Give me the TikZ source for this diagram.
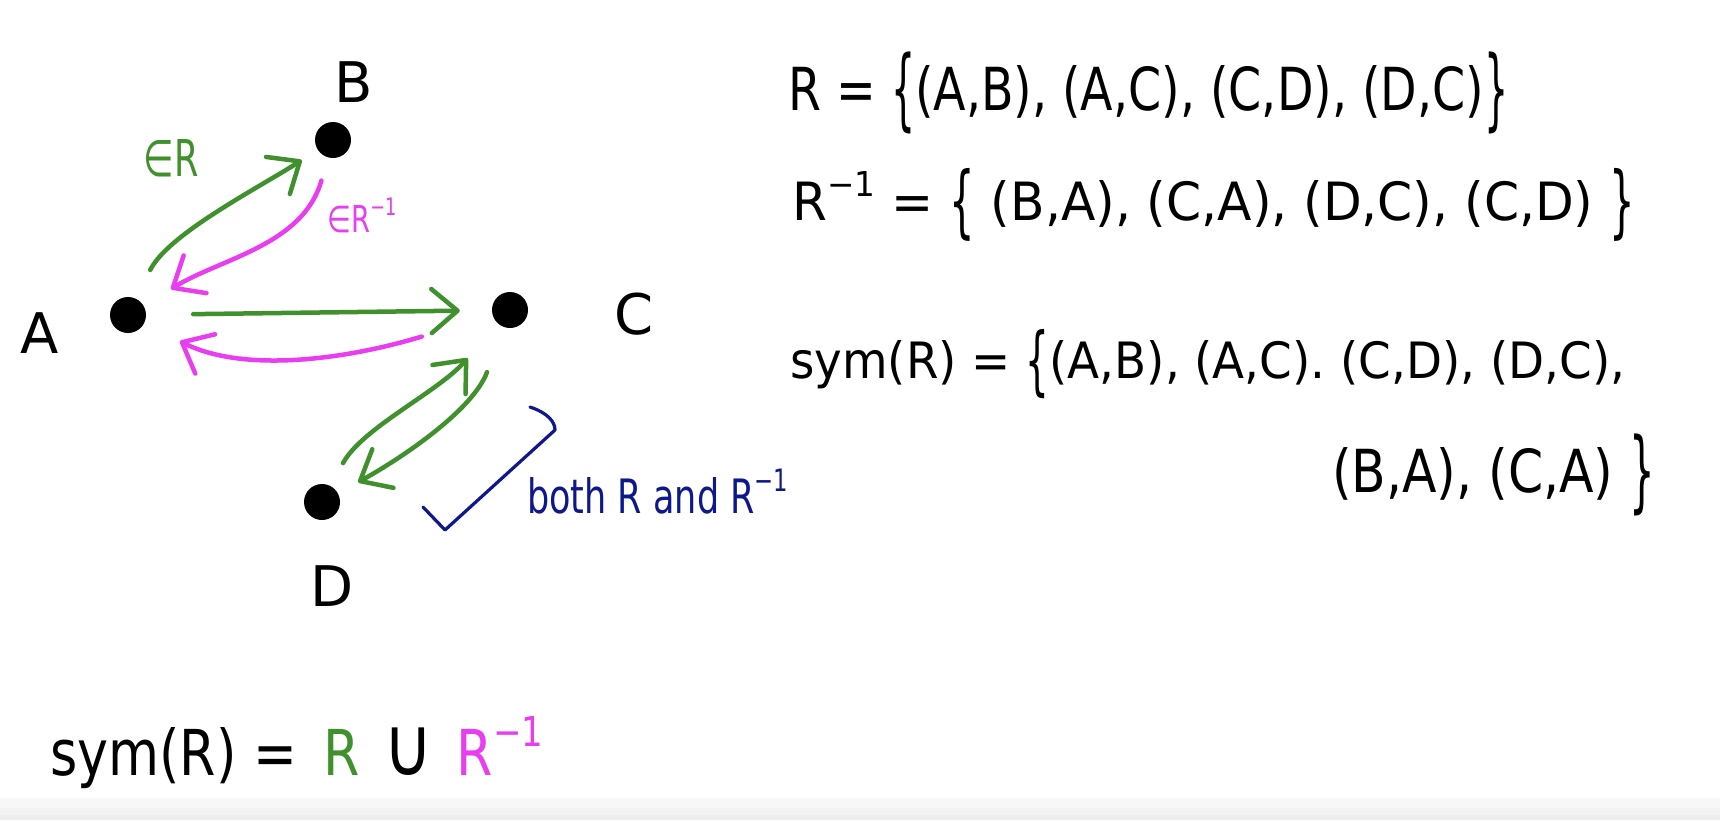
\documentclass[tikz,border=0pt]{standalone}
\usepackage{fontspec}
\setmainfont{DejaVu Sans}
\usepackage{graphicx}
\usetikzlibrary{arrows.meta}
\definecolor{grn}{RGB}{64,145,46}
\definecolor{mag}{RGB}{232,62,240}
\definecolor{navyink}{RGB}{14,24,140}
\newcommand\bbr[1]{\smash{\raisebox{-0.16em}{\scalebox{0.8}[1.5]{#1}}}}
\newcommand\mone{\smash{\raisebox{0.45em}{\fontsize{6.5}{7}\selectfont −1}}}
\begin{document}
\begin{tikzpicture}[x=1pt,y=-1pt,
  dot/.style={circle,fill=black,inner sep=0pt,minimum size=36pt},
  lab/.style={inner sep=0pt,font=\fontsize{56}{60}\selectfont},
  txt/.style={anchor=base west,inner sep=0pt},
  garrow/.style={draw=grn,line width=4.5pt,line cap=round,-{Straight Barb[length=26pt,width=44pt,round]}},
  marrow/.style={draw=mag,line width=4.5pt,line cap=round,-{Straight Barb[length=26pt,width=44pt,round]}},
  bpen/.style={draw=navyink,line width=3.2pt,line cap=round,line join=round}]
\path[use as bounding box] (0,0) rectangle (1720,820);
\fill[white] (0,0) rectangle (1720,820);
\fill[black!3] (0,798) rectangle (1720,820);
\fill[black!5] (0,808) rectangle (1720,820);
\fill[black!7] (0,815) rectangle (1720,820);

% vertices
\node[dot] (A) at (128,315) {};
\node[dot] (B) at (333,140) {};
\node[dot] (C) at (510,310) {};
\node[dot] (D) at (322,502) {};
\node[lab] (lA) at (40,333) {A};
\node[lab] (lB) at (354,82) {B};
\node[lab] (lC) at (634,314) {C};
\node[lab] (lD) at (332,586) {D};

% connectors
\draw[garrow,shorten <=32pt,shorten >=19pt] (A) .. controls (168,234) and (260,187) .. (B);
\draw[marrow,shorten <=24pt,shorten >=32pt] (B) .. controls (303,245) and (222,258) .. (A);
\draw[garrow,shorten <=47pt,shorten >=32pt] (A) -- (C);
\draw[marrow,shorten <=74pt,shorten >=40pt] (C) .. controls (344,360) and (243,373) .. (A);
\draw[garrow,shorten <=26pt,shorten >=46pt] (D) .. controls (362,428) and (438,392) .. (C);
\draw[garrow,shorten <=48pt,shorten >=23pt] (C) .. controls (473,410) and (402,458) .. (D);

% edge labels
\node[inner sep=0pt,text=grn] (eR) at (171,158) {\resizebox{55pt}{37pt}{∈R}};
\node[inner sep=0pt,text=mag] (eRi) at (362,219) {\resizebox{69pt}{27pt}{∈R\mone}};

% blue annotation
\draw[bpen] (530,407) .. controls (548,413) and (555,422) .. (555,430) -- (445,530) -- (423,507);
\node[txt,text=navyink] (both) at (527,513) {\resizebox{261pt}{36pt}{both R and R\mone}};

% set definitions
\node[txt] (r1) at (788,110) {\resizebox{720pt}{45pt}{R = \bbr{\{}(A,B), (A,C), (C,D), (D,C)\bbr{\}}}};
\node[txt] (r2) at (792,220) {\resizebox{843pt}{40pt}{R\mone{} = \bbr{\{} (B,A), (C,A), (D,C), (C,D) \bbr{\}}}};
\node[txt] (r3) at (790,378) {\resizebox{835pt}{38pt}{sym(R) = \bbr{\{}(A,B), (A,C). (C,D), (D,C),}};
\node[txt] (r4) at (1332,492) {\resizebox{323pt}{45pt}{(B,A), (C,A) \bbr{\}}}};

% bottom formula
\node[txt] (bot) at (50,775) {\resizebox{493pt}{48pt}{sym(R) =\hspace{0.5em}{\color{grn}R}\hspace{0.45em}\smash{\scalebox{1.3}{∪}}\hspace{0.45em}{\color{mag}R\mone}}};
\end{tikzpicture}
\end{document}
